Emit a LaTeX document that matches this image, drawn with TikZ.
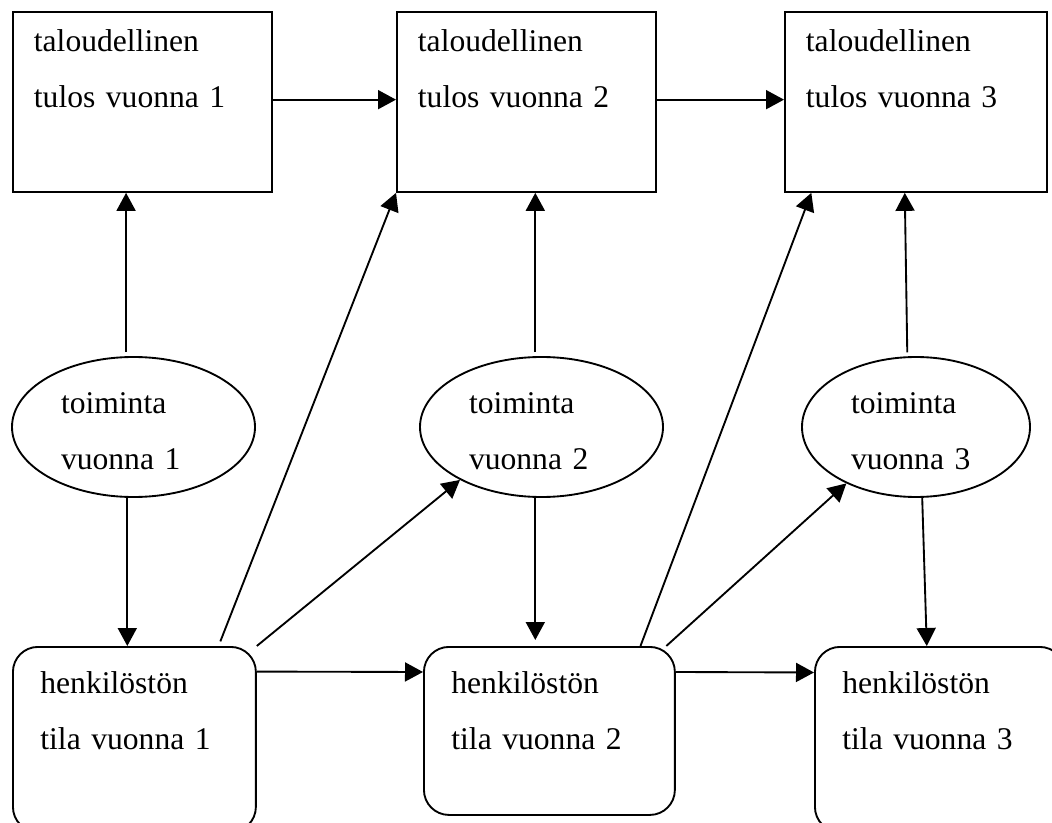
\documentclass[tikz,border=0pt]{standalone}
\usepackage{fontspec}
\setmainfont{Liberation Serif}
\usetikzlibrary{arrows.meta,shapes.geometric}

\tikzset{every picture/.style={line width=1.4pt}}
\tikzset{
  tulosbox/.style={draw, rectangle, anchor=north west, inner xsep=15.75pt, inner ysep=0pt, text height=30pt, align=left},
  toimintaellipse/.style={draw, ellipse, inner sep=0pt, minimum height=105pt, text height=16.5pt, text depth=37.5pt, align=left},
  tilabox/.style={draw, rectangle, rounded corners=18.75pt, anchor=north west, inner xsep=20.6pt, inner ysep=0pt, text height=35.25pt, align=left},
  nuoli/.style={-{Triangle[length=13.5pt,width=14.25pt]}},
}

\begin{document}
\begin{tikzpicture}[x=0.75pt,y=0.75pt,yscale=-1,xscale=1,font=\fontsize{23.7pt}{42pt}\selectfont]
\useasboundingbox (0,0) rectangle (1052,823);

% Tulokset
\node[tulosbox, text width=162.75pt, text depth=105pt] (t1) at (12,11) {taloudellinen\\tulos vuonna 1};
\node[tulosbox, text width=162.75pt, text depth=105pt] (t2) at (396,11) {taloudellinen\\tulos vuonna 2};
\node[tulosbox, text width=165pt, text depth=105pt] (t3) at (784,11) {taloudellinen\\tulos vuonna 3};

% Toiminta
\node[toimintaellipse, minimum width=182.25pt, text width=108.75pt] (e1) at (133.5,427) {toiminta\\vuonna 1};
\node[toimintaellipse, minimum width=182.25pt, text width=108.75pt] (e2) at (541.5,427) {toiminta\\vuonna 2};
\node[toimintaellipse, minimum width=171pt, text width=97.5pt] (e3) at (916,427) {toiminta\\vuonna 3};

% Henkiloston tila
\node[tilabox, text width=141pt, text depth=103.5pt] (b1) at (12,646) {henkilöstön\\tila vuonna 1};
\node[tilabox, text width=147pt, text depth=90.75pt] (b2) at (423,646) {henkilöstön\\tila vuonna 2};
\node[tilabox, text width=146.25pt, text depth=103.5pt] (b3) at (814,646) {henkilöstön\\tila vuonna 3};

% Tulos -> tulos
\draw[nuoli] (t1.1.3) -- (t1.1.3 -| t2.west);
\draw[nuoli] (t2.1.3) -- (t2.1.3 -| t3.west);

% Toiminta -> tulos
\draw[nuoli, shorten <=3pt] (e1.96) -- (e1.96 |- t1.south);
\draw[nuoli, shorten <=3pt] (e2.95) -- (e2.95 |- t2.south);
\draw[nuoli, shorten <=3pt] (e3.97) -- (t3.263);

% Toiminta -> tila
\draw[nuoli] (e1.265.5) -- (e1.265.5 |- b1.north);
\draw[nuoli, shorten >=4.5pt] (e2.265) -- (e2.265 |- b2.north);
\draw[nuoli] (e3.275.7) -- (b3.98);

% Tila -> seuraavan vuoden tulos
\draw[nuoli, shorten <=3.75pt] (b1.48.6) -- (t2.south west);
\draw[nuoli] (b2.43.8) -- (t3.221.4);

% Tila -> seuraavan vuoden toiminta
\draw[nuoli] (b1.north east) -- (e2.213.7);
\draw[nuoli] (b2.36.3) -- (e3.219.6);

% Tila -> tila
\draw[nuoli] (b1.29.8) -- (b2.155.6);
\draw[nuoli] (b2.25.9) -- (b3.152.3);
\end{tikzpicture}
\end{document}
